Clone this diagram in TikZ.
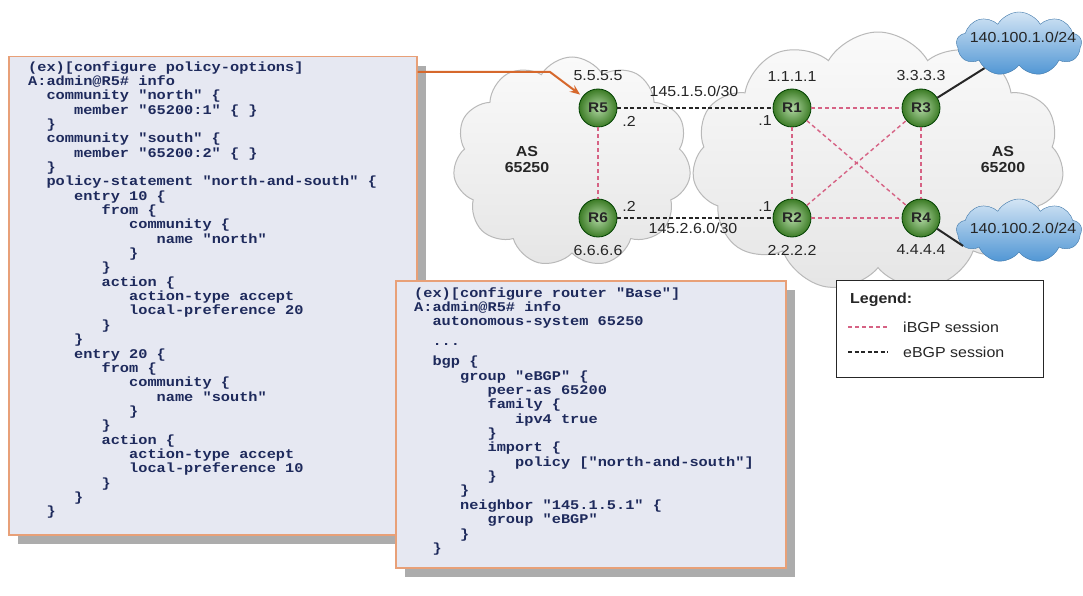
\documentclass[tikz,border=0pt]{standalone}
\usepackage{fontspec}
\setmainfont{Liberation Sans}
\newfontfamily\codefont{Liberation Mono}[FakeStretch=1.15]
\newfontfamily\labfont{Liberation Sans}[FakeStretch=1.1]
\usetikzlibrary{shapes.symbols,shadows,arrows.meta}

\definecolor{codeblue}{RGB}{30,42,92}
\definecolor{boxfill}{RGB}{230,232,242}
\definecolor{boxline}{RGB}{232,160,120}
\definecolor{ibgppink}{RGB}{214,98,132}
\definecolor{cfgorange}{RGB}{214,104,44}
\definecolor{routergreen}{RGB}{80,165,50}
\definecolor{netblue}{RGB}{80,150,212}

% code font and indent by n characters
\newcommand\codesize{\codefont\bfseries\fontsize{13.3}{14.35}\selectfont}
\newlength\codecw
\settowidth\codecw{\codesize x}
\newcommand\ind[1]{\hspace*{#1\codecw}}

\tikzset{
  codebox/.style={draw=boxline, line width=1.5pt, fill=boxfill, anchor=north west, inner sep=0pt,
    drop shadow={shadow xshift=9pt, shadow yshift=-9pt, fill=gray!65, opacity=1}},
  code/.style={anchor=north west, inner sep=0pt, align=left, text=codeblue, font=\codesize},
  asbg/.style={cloud, cloud puffs=11, cloud puff arc=120, draw=gray!55, line width=1pt,
    top color=gray!4, bottom color=gray!20, inner sep=0pt},
  netcloud/.style={cloud, cloud puffs=9, cloud puff arc=120, draw=netblue!80!black, thin,
    top color=netblue!25, bottom color=netblue, inner sep=0pt, minimum width=125pt, minimum height=64pt},
  router/.style={shape=circle, inner color=routergreen!45!white, outer color=routergreen!75!black,
    draw=green!25!black, thick, minimum size=38pt, inner sep=0pt, text=black!85,
    font=\labfont\bfseries\fontsize{14}{14}\selectfont},
  iplab/.style={text=black!85, font=\labfont\fontsize{14.5}{16}\selectfont, label distance=4pt},
  asname/.style={align=center, text=black!85, font=\labfont\bfseries\fontsize{14.5}{16}\selectfont},
  ebgp/.style={draw=black!85, line width=2pt, dash pattern=on 4pt off 2.5pt},
  ibgp/.style={draw=ibgppink, line width=1.4pt, dash pattern=on 4pt off 3pt},
  link/.style={draw=black!85, line width=2pt},
  cfgarrow/.style={draw=cfgorange, line width=2pt, -{Stealth[length=10pt,width=8pt]}, shorten >=3pt},
  legtext/.style={anchor=west, inner sep=0pt, text=black!85, font=\labfont\fontsize{14.5}{16}\selectfont}
}

\begin{document}
\begin{tikzpicture}[x=1pt, y=-1pt]
\useasboundingbox[fill=white] (0,0) rectangle (1083,596);

% AS clouds
\node[asbg, minimum width=238pt, minimum height=210pt] (as65250) at (572,162) {};
\node[asbg, minimum width=372pt, minimum height=260pt] (as65200) at (878,162) {};
\node[asname] (as1name) at (527,160) {AS\\65250};
\node[asname] (as2name) at (1003,160) {AS\\65200};

% customer networks
\node[netcloud] (net1) at (1019,44) {};
\node[netcloud] (net2) at (1019,231) {};
\node[iplab] (net1lbl) at (1023,37) {140.100.1.0/24};
\node[iplab] (net2lbl) at (1023,228) {140.100.2.0/24};

% routers
\node[router, label={[iplab]above:5.5.5.5}] (R5) at (598,108) {R5};
\node[router, label={[iplab]below:6.6.6.6}] (R6) at (598,218) {R6};
\node[router, label={[iplab]above:1.1.1.1}] (R1) at (792,108) {R1};
\node[router, label={[iplab]below:2.2.2.2}] (R2) at (792,218) {R2};
\node[router, label={[iplab]above:3.3.3.3}] (R3) at (921,108) {R3};
\node[router, label={[iplab]below:4.4.4.4}] (R4) at (921,218) {R4};

\node[iplab] (R5if) at (629,121) {.2};
\node[iplab] (R6if) at (629,206) {.2};
\node[iplab] (R1if) at (765,121) {.1};
\node[iplab] (R2if) at (765,207) {.1};
\node[iplab] (sub15) at (694,91) {145.1.5.0/30};
\node[iplab] (sub26) at (693,228) {145.2.6.0/30};

\path [ebgp] (R5) edge (R1);
\path [ebgp] (R6) edge (R2);
\path [ibgp] (R5) edge (R6);
\path [ibgp] (R1) edge (R3);
\path [ibgp] (R1) edge (R2);
\path [ibgp] (R1) edge (R4);
\path [ibgp] (R2) edge (R3);
\path [ibgp] (R2) edge (R4);
\path [ibgp] (R3) edge (R4);
\path [link] (R3) edge (net1.215);
\path [link] (R4) edge (net2.195);

% legend
\node[draw=black!85, line width=1.3pt, fill=white, anchor=north west, minimum width=207pt, minimum height=97pt] (legend) at (836,280) {};
\node[legtext, font=\labfont\bfseries\fontsize{14.5}{16}\selectfont] (legtitle) at (850,300) {Legend:};
\coordinate (ib0) at (848,327);
\coordinate (ib1) at (888,327);
\coordinate (eb0) at (848,352);
\coordinate (eb1) at (888,352);
\draw[ibgp] (ib0) -- (ib1);
\draw[ebgp] (eb0) -- (eb1);
\node[legtext] (ibtxt) at (903,327) {iBGP session};
\node[legtext] (ebtxt) at (903,352) {eBGP session};

% policy-options box
\node[codebox, minimum width=408pt, minimum height=478pt] (polbox) at (8,56) {};
\node[code] (polcode) at (28,61) {%
(ex)[configure policy-options]\\
A:admin@R5\# info\\
\ind{2}community "north" \{\\
\ind{5}member "65200:1" \{ \}\\
\ind{2}\}\\
\ind{2}community "south" \{\\
\ind{5}member "65200:2" \{ \}\\
\ind{2}\}\\
\ind{2}policy-statement "north-and-south" \{\\
\ind{5}entry 10 \{\\
\ind{8}from \{\\
\ind{11}community \{\\
\ind{14}name "north"\\
\ind{11}\}\\
\ind{8}\}\\
\ind{8}action \{\\
\ind{11}action-type accept\\
\ind{11}local-preference 20\\
\ind{8}\}\\
\ind{5}\}\\
\ind{5}entry 20 \{\\
\ind{8}from \{\\
\ind{11}community \{\\
\ind{14}name "south"\\
\ind{11}\}\\
\ind{8}\}\\
\ind{8}action \{\\
\ind{11}action-type accept\\
\ind{11}local-preference 10\\
\ind{8}\}\\
\ind{5}\}\\
\ind{2}\}};

% router Base box
\node[codebox, minimum width=390pt, minimum height=287pt] (bgpbox) at (395,280) {};
\node[code] (bgpcode) at (414,287) {%
(ex)[configure router "Base"]\\
A:admin@R5\# info\\
\ind{2}autonomous-system 65250\\[5.7pt]
\ind{2}...\\[5.7pt]
\ind{2}bgp \{\\
\ind{5}group "eBGP" \{\\
\ind{8}peer-as 65200\\
\ind{8}family \{\\
\ind{11}ipv4 true\\
\ind{8}\}\\
\ind{8}import \{\\
\ind{11}policy ["north-and-south"]\\
\ind{8}\}\\
\ind{5}\}\\
\ind{5}neighbor "145.1.5.1" \{\\
\ind{8}group "eBGP"\\
\ind{5}\}\\
\ind{2}\}};

% pointer to R5
\coordinate (bend) at (550,72);
\draw[cfgarrow] (polbox.east |- bend) -- (bend) -- (R5);
\end{tikzpicture}
\end{document}
